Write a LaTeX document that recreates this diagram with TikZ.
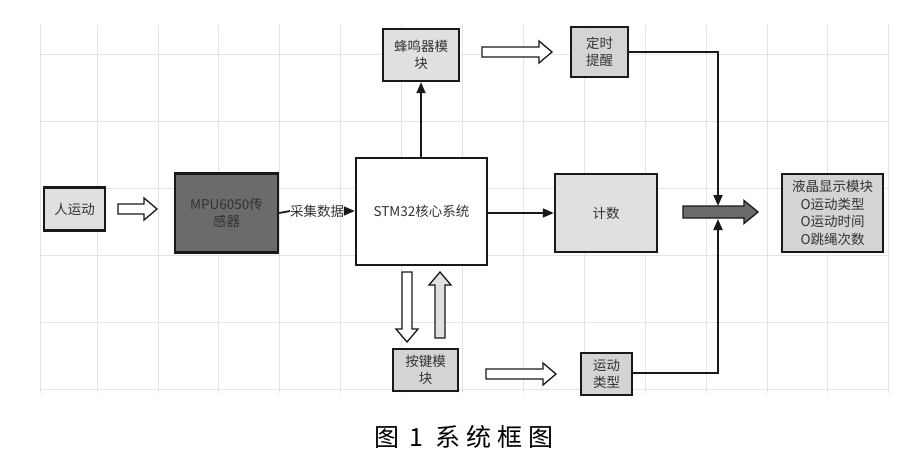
\documentclass[tikz,border=0pt]{standalone}
\usepackage{fontspec}
\newfontfamily\cjk{Noto Sans CJK SC}
\usetikzlibrary{arrows.meta}
\definecolor{boxlight}{HTML}{E0E0E0}
\definecolor{boxmid}{HTML}{D4D4D4}
\definecolor{boxdark}{HTML}{6B6B6B}
\definecolor{gridc}{HTML}{E4E4E4}
\definecolor{txt}{HTML}{333333}
\tikzset{
  blk/.style={draw=black!90, line width=2.4pt, inner sep=1pt, align=center,
              font=\cjk\fontsize{13.5}{17}\selectfont, text=txt},
  conn/.style={line width=1.8pt, draw=black!90, -{Triangle[length=11pt,width=9pt]}},
  plainline/.style={line width=1.8pt, draw=black!90},
  hol/.style={draw=black!90, line width=1.3pt, fill=white, line join=miter},
  hollow/.pic={\path[hol,pic actions] (0,-5) -- ({#1-13},-5) -- ({#1-13},-11) -- (#1,0) -- ({#1-13},11) -- ({#1-13},5) -- (0,5) -- cycle;},
}
\begin{document}
\begin{tikzpicture}[x=1pt,y=-1pt]
\useasboundingbox (0,0) rectangle (920,469);
\fill[white] (0,0) rectangle (920,469);
% grid
\foreach \k in {0,...,13} \draw[gridc, line width=0.8pt] ({97+60.9*\k},25) -- ({97+60.9*\k},393);
\foreach \k in {0,...,5} \draw[gridc, line width=0.8pt] (40,{54+67*\k}) -- (889,{54+67*\k});
\draw[gridc, line width=0.8pt] (40,25) -- (40,393);

% nodes
\node[blk, fill=boxlight, minimum width=61pt, minimum height=43pt] (ren) at (74.5,209) {人运动};
\node[blk, fill=boxdark, minimum width=103pt, minimum height=79pt] (mpu) at (226.5,213) {MPU6050传\\感器};
\node[blk, fill=white, minimum width=131pt, minimum height=107pt] (stm) at (421.5,211.5) {STM32核心系统};
\node[blk, fill=boxlight, minimum width=76pt, minimum height=52pt] (buzz) at (421,55) {蜂鸣器模\\块};
\node[blk, fill=boxmid, minimum width=57pt, minimum height=50pt] (timer) at (599.5,52) {定时\\提醒};
\node[blk, fill=boxlight, minimum width=102pt, minimum height=78pt] (count) at (606,213) {计数};
\node[blk, fill=boxmid, minimum width=101pt, minimum height=78pt, font=\cjk\fontsize{13.5}{17.5}\selectfont] (lcd) at (832.5,213) {液晶显示模块\\O运动类型\\O运动时间\\O跳绳次数};
\node[blk, fill=boxmid, minimum width=65pt, minimum height=42pt] (key) at (425.5,370) {按键模\\块};
\node[blk, fill=boxmid, minimum width=51pt, minimum height=42pt] (type) at (606.5,374) {运动\\类型};

% hollow arrows
\pic at (118,209) {hollow=39};
\pic at (482,52) {hollow=70};
\pic at (486,374) {hollow=70};
\pic[rotate=-90] at (407,272) {hollow=70};
\path[hol, fill=boxlight] (435,338) -- (435,285) -- (429,285) -- (440,272) -- (451,285) -- (445,285) -- (445,338) -- cycle;

% connectors
\draw[plainline] (mpu.east) -- (290,211);
\node[font=\cjk\fontsize{13.5}{15}\selectfont, text=txt, inner sep=0pt] (cj) at (317,211) {采集数据};
\draw[conn] (cj.east) -- (stm.west|-cj.east);
\draw[conn] (stm.north-|buzz.south) -- (buzz.south);
\draw[conn] (stm.east|-count.west) -- (count.west);

% merge arrow
\path[draw=black!90, line width=1.3pt, fill=boxdark] (683,206) -- (744,206) -- (744,200.5) -- (758,212) -- (744,223.5) -- (744,218) -- (683,218) -- cycle;
\coordinate (jt) at (718,206);
\coordinate (jb) at (718,219);
\coordinate (ct) at (718,52);
\coordinate (cb) at (718,373);
\draw[conn] (timer.east|-ct) -- (ct) -- (jt);
\draw[conn] (type.east|-cb) -- (cb) -- (jb);

% caption
\node[font=\cjk\fontsize{25}{28}\selectfont, text=black] (cap) at (464,437) {图\hspace{10pt}1\hspace{12pt}系\hspace{6pt}统\hspace{6pt}框\hspace{6pt}图};
\end{tikzpicture}
\end{document}
